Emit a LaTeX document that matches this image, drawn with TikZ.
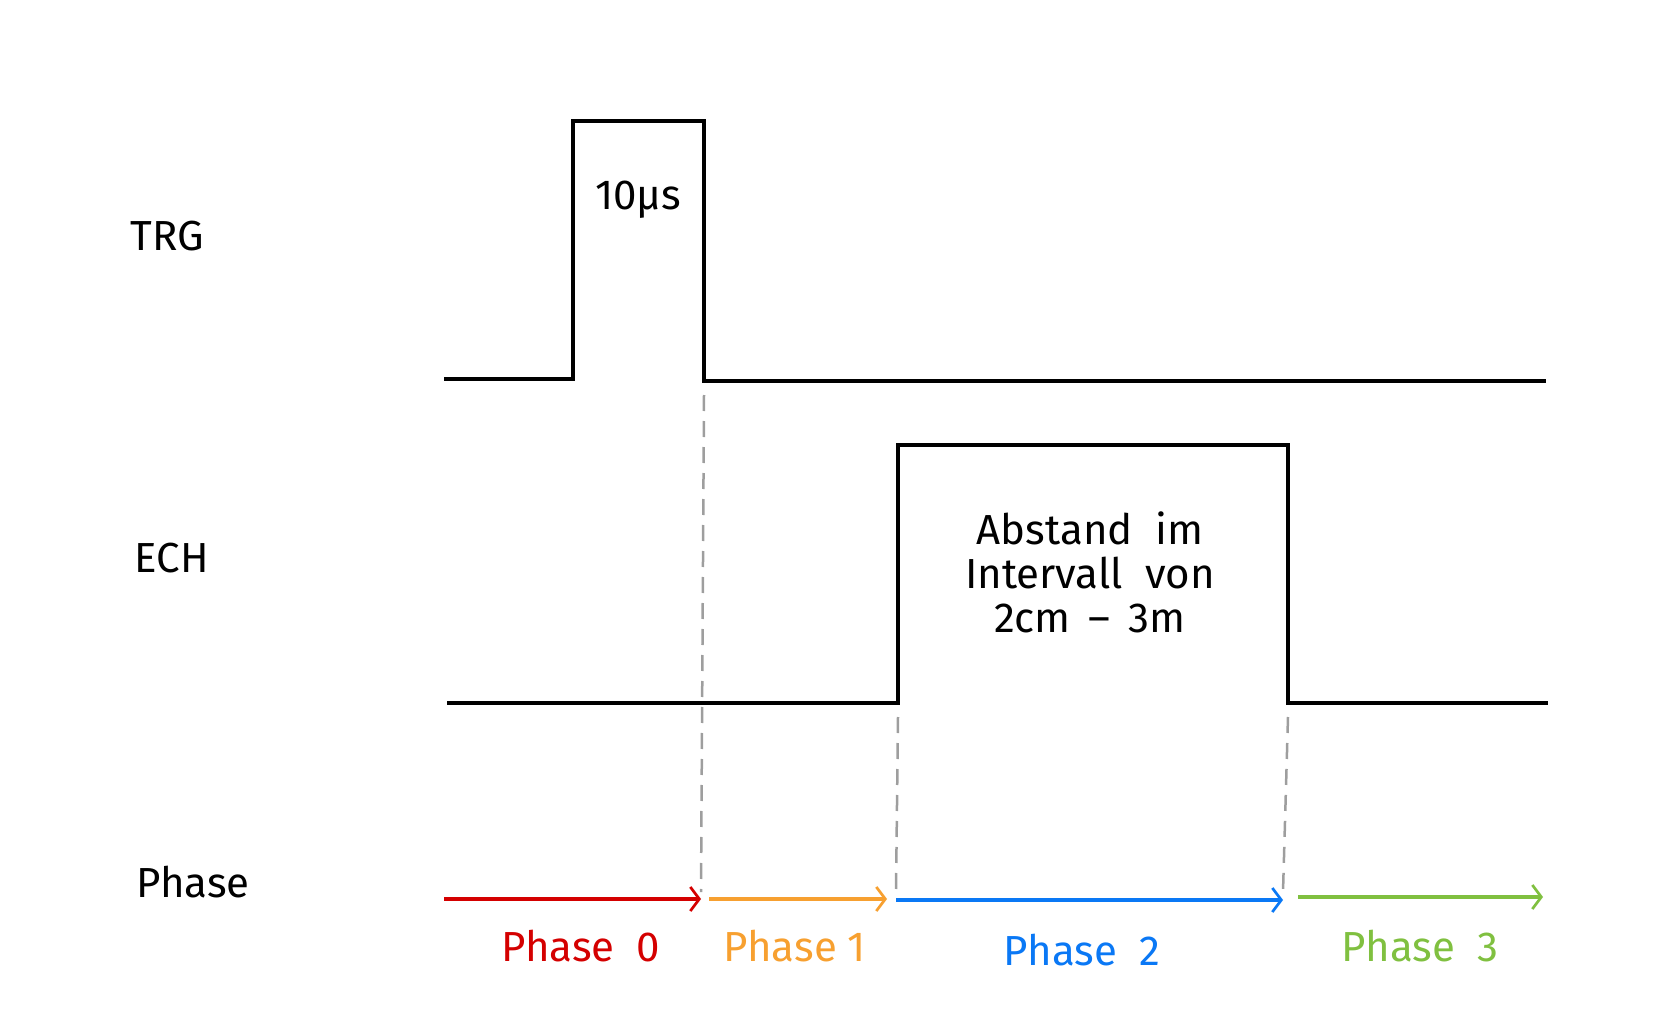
\documentclass[tikz,border=0pt]{standalone}
\usepackage{fontspec}
\setmainfont{Fira Sans}
\usetikzlibrary{positioning}
\usetikzlibrary{calc}
\usetikzlibrary{arrows.meta}

\definecolor{phasered}{HTML}{D40000}
\definecolor{phaseorange}{HTML}{F7A030}
\definecolor{phaseblue}{HTML}{0A78F5}
\definecolor{phasegreen}{HTML}{80C040}

\begin{document}
\begin{tikzpicture}[x=1pt, y=-1pt,
        signal/.style={black, line width=3.5pt},
        guide/.style={black!38, line width=2.5pt, dash pattern=on 16pt off 10pt},
        phasearrow/.style={line width=3.2pt, -{Straight Barb[length=9pt, width=24pt, line width=2.7pt]}},
        lbl/.style={font=\fontsize{42}{44}\selectfont, inner sep=0pt}]
            \useasboundingbox (0,0) rectangle (1666,1022);

            \node[lbl] (trg) at (167,236) {TRG};
            \node[lbl] (ech) at (172,558) {ECH};
            \node[lbl] (phase) at (193,882) {Phase};

            \coordinate (t0) at (444,379);
            \coordinate (t1) at (573,379);
            \coordinate (t2) at (573,121);
            \coordinate (t3) at (704,121);
            \coordinate (t4) at (704,381);
            \coordinate (t5) at (1546,381);
            \draw[signal] (t0) -- (t1) -- (t2) -- (t3) -- (t4) -- (t5);
            \node[lbl] (pulse) at (638,200) {10µs};

            \coordinate (e0) at (447,703);
            \coordinate (e1) at (898,703);
            \coordinate (e2) at (898,445);
            \coordinate (e3) at (1288,445);
            \coordinate (e4) at (1288,703);
            \coordinate (e5) at (1548,703);
            \draw[signal] (e0) -- (e1) -- (e2) -- (e3) -- (e4) -- (e5);
            \node[lbl, align=center] (echo) at (1090,572) {Abstand\ \ im\\Intervall\ \ von\\2cm \,–\, 3m};

            \coordinate (a0) at (444,899);
            \coordinate (a1) at (701,899);
            \coordinate (b0) at (709,899);
            \coordinate (b1) at (887,899);
            \coordinate (c0) at (896,900);
            \coordinate (c1) at (1283,900);
            \coordinate (d0) at (1298,897);
            \coordinate (d1) at (1543,897);

            \draw[guide] ($(t4)+(0,14)$) -- (a1 |- 0,892);
            \draw[guide] ($(e1)+(0,14)$) -- (c0 |- 0,892);
            \draw[guide] ($(e4)+(0,14)$) -- (c1 |- 0,892);

            \draw[phasearrow, phasered] (a0) -- (a1);
            \draw[phasearrow, phaseorange] (b0) -- (b1);
            \draw[phasearrow, phaseblue] (c0) -- (c1);
            \draw[phasearrow, phasegreen] (d0) -- (d1);

            \node[lbl, phasered] (ph0) at (581,946) {Phase\ \ 0};
            \node[lbl, phaseorange] (ph1) at (795,946) {Phase 1};
            \node[lbl, phaseblue] (ph2) at (1082,950) {Phase\ \ 2};
            \node[lbl, phasegreen] (ph3) at (1420,946) {Phase\ \ 3};
        \end{tikzpicture}
\end{document}
